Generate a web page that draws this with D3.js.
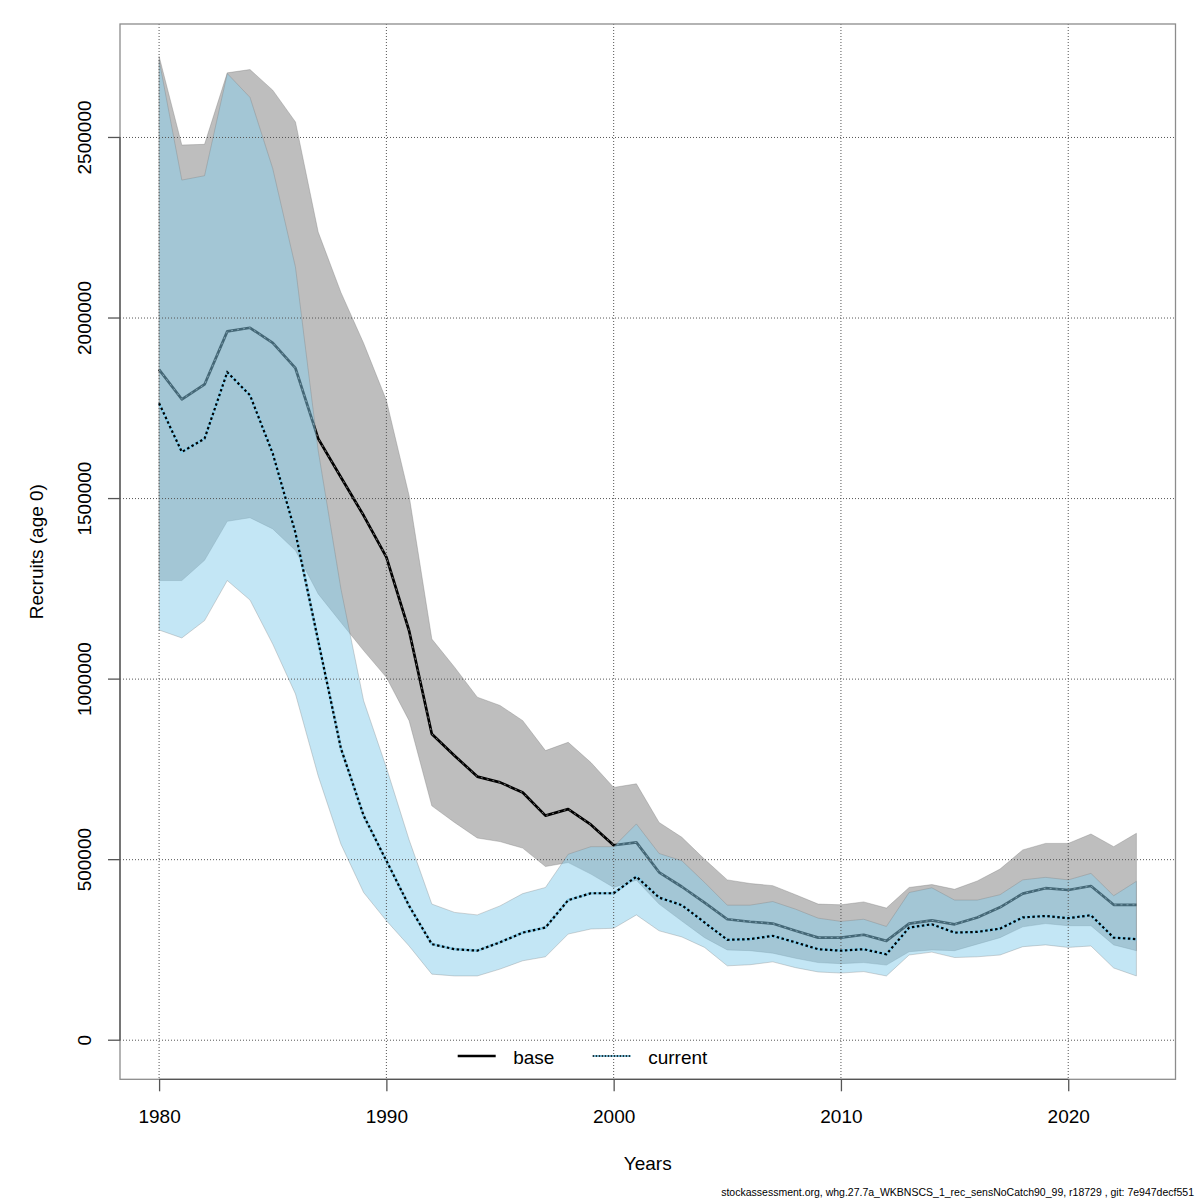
<!DOCTYPE html>
<html>
<head>
<meta charset="utf-8">
<script src="https://cdn.jsdelivr.net/npm/d3@7/dist/d3.min.js"></script>
<style>
  body { margin: 0; background: #fff; }
  svg { display: block; font-family: "Liberation Sans", Arial, Helvetica, sans-serif; }
</style>
</head>
<body>
<div id="chart"></div>
<script>
// Recruitment estimates, base run vs current run (with confidence bands)
const years = [
  1980, 1981, 1982, 1983, 1984, 1985, 1986, 1987, 1988, 1989,
  1990, 1991, 1992, 1993, 1994, 1995, 1996, 1997, 1998, 1999,
  2000, 2001, 2002, 2003, 2004, 2005, 2006, 2007, 2008, 2009,
  2010, 2011, 2012, 2013, 2014, 2015, 2016, 2017, 2018, 2019,
  2020, 2021, 2022, 2023
];

const base = [
  1857000, 1775000, 1816000, 1963000, 1973000, 1931000, 1861000, 1666000, 1559000, 1453000,
  1338000, 1134000, 848000, 788000, 730000, 714000, 686000, 622000, 640000, 597000,
  540000, 548000, 465000, 425000, 381000, 335000, 328000, 323000, 303000, 284000,
  284000, 292000, 275000, 323000, 332000, 321000, 340000, 368000, 406000, 421000,
  416000, 427000, 375000, 375000
];
const baseLow = [
  1273000, 1273000, 1329000, 1437000, 1447000, 1416000, 1356000, 1236000, 1157000, 1079000,
  1005000, 885000, 649000, 603000, 560000, 550000, 532000, 481000, 492000, 460000,
  423000, 443000, 377000, 330000, 284000, 250000, 248000, 241000, 227000, 215000,
  212000, 215000, 208000, 245000, 250000, 248000, 266000, 284000, 314000, 323000,
  317000, 317000, 264000, 248000
];
const baseHigh = [
  2725000, 2479000, 2481000, 2679000, 2688000, 2631000, 2543000, 2238000, 2071000, 1930000,
  1772000, 1508000, 1111000, 1033000, 950000, 927000, 885000, 802000, 825000, 769000,
  700000, 710000, 603000, 562000, 501000, 444000, 434000, 428000, 403000, 377000,
  375000, 383000, 366000, 423000, 431000, 418000, 441000, 474000, 527000, 545000,
  545000, 571000, 536000, 573000
];

const current = [
  1764000, 1629000, 1666000, 1850000, 1786000, 1625000, 1405000, 1106000, 808000, 622000,
  497000, 372000, 266000, 252000, 248000, 271000, 298000, 312000, 388000, 407000,
  407000, 453000, 395000, 374000, 326000, 278000, 280000, 289000, 271000, 252000,
  248000, 252000, 238000, 312000, 321000, 298000, 300000, 309000, 340000, 344000,
  338000, 346000, 284000, 280000
];
const currentLow = [
  1136000, 1114000, 1162000, 1273000, 1219000, 1097000, 959000, 732000, 543000, 409000,
  331000, 261000, 183000, 178000, 178000, 197000, 220000, 231000, 294000, 308000,
  310000, 347000, 303000, 286000, 257000, 206000, 209000, 217000, 201000, 189000,
  186000, 190000, 178000, 236000, 244000, 229000, 231000, 236000, 259000, 264000,
  257000, 261000, 200000, 178000
];
const currentHigh = [
  2715000, 2382000, 2394000, 2677000, 2611000, 2414000, 2141000, 1633000, 1250000, 940000,
  755000, 555000, 377000, 354000, 347000, 372000, 406000, 423000, 515000, 536000,
  536000, 599000, 517000, 497000, 437000, 374000, 374000, 384000, 363000, 338000,
  329000, 335000, 315000, 409000, 422000, 388000, 388000, 403000, 444000, 451000,
  444000, 462000, 400000, 440000
];

const xTicks = [1980, 1990, 2000, 2010, 2020];
const yTicks = [0, 500000, 1000000, 1500000, 2000000, 2500000];
const xLim = [1980, 2023];
const yLim = [0, 2706000];

const legendItems = ['base', 'current'];
const footer = 'stockassessment.org, whg.27.7a_WKBNSCS_1_rec_sensNoCatch90_99, r18729 , git: 7e947decf551';

// Layout
const width = 1200;
const height = 1200;
const plot = { left: 120, right: 1175.5, top: 24, bottom: 1079.3 };
const fontSize = 19;
const pad = 0.04; // R style axis extension

const x = d3.scaleLinear()
  .domain([xLim[0] - pad * (xLim[1] - xLim[0]), xLim[1] + pad * (xLim[1] - xLim[0])])
  .range([plot.left, plot.right]);

const y = d3.scaleLinear()
  .domain([yLim[0] - pad * (yLim[1] - yLim[0]), yLim[1] + pad * (yLim[1] - yLim[0])])
  .range([plot.bottom, plot.top]);

const rows = years.map((yr, i) => ({
  year: yr,
  base: base[i], baseLow: baseLow[i], baseHigh: baseHigh[i],
  current: current[i], currentLow: currentLow[i], currentHigh: currentHigh[i]
}));

const svg = d3.select('#chart')
  .append('svg')
  .attr('width', width)
  .attr('height', height)
  .attr('viewBox', `0 0 ${width} ${height}`);

// Confidence bands
const bandBase = d3.area()
  .x(d => x(d.year))
  .y0(d => y(d.baseLow))
  .y1(d => y(d.baseHigh));

const bandCurrent = d3.area()
  .x(d => x(d.year))
  .y0(d => y(d.currentLow))
  .y1(d => y(d.currentHigh));

svg.append('path')
  .datum(rows)
  .attr('d', bandBase)
  .attr('fill', '#bebebe')
  .attr('stroke', 'rgba(120,120,120,0.35)')
  .attr('stroke-width', 1);

// base line (drawn before the blue band so it shows through it)
const lineBase = d3.line().x(d => x(d.year)).y(d => y(d.base));
svg.append('path')
  .datum(rows)
  .attr('d', lineBase)
  .attr('fill', 'none')
  .attr('stroke', '#000')
  .attr('stroke-width', 2.7)
  .attr('stroke-linejoin', 'round');
svg.append('path')
  .datum(rows)
  .attr('d', lineBase)
  .attr('fill', 'none')
  .attr('stroke', '#777')
  .attr('stroke-width', 1)
  .attr('stroke-dasharray', '2,4');

svg.append('path')
  .datum(rows)
  .attr('d', bandCurrent)
  .attr('fill', 'rgba(135,206,235,0.5)')
  .attr('stroke', 'rgba(120,120,120,0.3)')
  .attr('stroke-width', 1);

// Grid
const grid = svg.append('g')
  .attr('stroke', '#555')
  .attr('stroke-width', 1)
  .attr('stroke-dasharray', '1,2');

grid.selectAll('line.h')
  .data(yTicks)
  .join('line')
  .attr('class', 'h')
  .attr('x1', plot.left)
  .attr('x2', plot.right)
  .attr('y1', d => y(d))
  .attr('y2', d => y(d));

grid.selectAll('line.v')
  .data(xTicks)
  .join('line')
  .attr('class', 'v')
  .attr('x1', d => x(d))
  .attr('x2', d => x(d))
  .attr('y1', plot.top)
  .attr('y2', plot.bottom);

// current line: sky blue underneath, black dashes on top
const lineCurrent = d3.line().x(d => x(d.year)).y(d => y(d.current));
svg.append('path')
  .datum(rows)
  .attr('d', lineCurrent)
  .attr('fill', 'none')
  .attr('stroke', '#87ceeb')
  .attr('stroke-width', 2.7);
svg.append('path')
  .datum(rows)
  .attr('d', lineCurrent)
  .attr('fill', 'none')
  .attr('stroke', '#000')
  .attr('stroke-width', 2.2)
  .attr('stroke-dasharray', '2.5,2.5');

// Plot box
svg.append('rect')
  .attr('x', plot.left)
  .attr('y', plot.top)
  .attr('width', plot.right - plot.left)
  .attr('height', plot.bottom - plot.top)
  .attr('fill', 'none')
  .attr('stroke', '#8c8c8c')
  .attr('stroke-width', 1.3);

// X axis
const xAxis = d3.axisBottom(x)
  .tickValues(xTicks)
  .tickSize(12)
  .tickPadding(18)
  .tickFormat(d3.format('d'));

const gx = svg.append('g')
  .attr('transform', `translate(0,${plot.bottom})`)
  .call(xAxis);
gx.select('.domain').remove();
gx.append('line')
  .attr('x1', x(xTicks[0]))
  .attr('x2', x(xTicks[xTicks.length - 1]))
  .attr('stroke', '#555')
  .attr('stroke-width', 1.3);
gx.selectAll('.tick line').attr('stroke', '#555').attr('stroke-width', 1.3);
gx.selectAll('.tick text')
  .attr('fill', '#000')
  .attr('font-size', fontSize)
  .attr('font-family', '"Liberation Sans", Arial, sans-serif');

// Y axis (labels rotated, R style)
const gy = svg.append('g');
gy.append('line')
  .attr('x1', plot.left)
  .attr('x2', plot.left)
  .attr('y1', y(yTicks[0]))
  .attr('y2', y(yTicks[yTicks.length - 1]))
  .attr('stroke', '#555')
  .attr('stroke-width', 1.3);
gy.selectAll('line.tick')
  .data(yTicks)
  .join('line')
  .attr('class', 'tick')
  .attr('x1', plot.left - 12)
  .attr('x2', plot.left)
  .attr('y1', d => y(d))
  .attr('y2', d => y(d))
  .attr('stroke', '#555')
  .attr('stroke-width', 1.3);
gy.selectAll('text')
  .data(yTicks)
  .join('text')
  .attr('transform', d => `translate(${plot.left - 29.5},${y(d)}) rotate(-90)`)
  .attr('text-anchor', 'middle')
  .attr('font-size', fontSize)
  .text(d => d3.format('d')(d));

// Axis titles
svg.append('text')
  .attr('x', (plot.left + plot.right) / 2)
  .attr('y', 1170)
  .attr('text-anchor', 'middle')
  .attr('font-size', fontSize)
  .text('Years');

svg.append('text')
  .attr('transform', `translate(43,${(plot.top + plot.bottom) / 2}) rotate(-90)`)
  .attr('text-anchor', 'middle')
  .attr('font-size', fontSize)
  .text('Recruits (age 0)');

// Legend (horizontal, no box)
const legend = svg.append('g').attr('transform', 'translate(457.7,1056)');
const lg = legend.selectAll('g')
  .data(legendItems)
  .join('g')
  .attr('transform', (d, i) => `translate(${i * 135},0)`);

lg.filter(d => d === 'base').append('line')
  .attr('x1', 0).attr('x2', 38)
  .attr('stroke', '#000')
  .attr('stroke-width', 2.5);

lg.filter(d => d === 'current').append('line')
  .attr('x1', 0).attr('x2', 38)
  .attr('stroke', '#87ceeb')
  .attr('stroke-width', 2);
lg.filter(d => d === 'current').append('line')
  .attr('x1', 0).attr('x2', 38)
  .attr('stroke', '#000')
  .attr('stroke-width', 1.4)
  .attr('stroke-dasharray', '1.5,1.5');

lg.append('text')
  .attr('x', 55.5)
  .attr('y', 7.5)
  .attr('font-size', fontSize)
  .text(d => d);

// Footer
svg.append('text')
  .attr('x', 1194)
  .attr('y', 1196)
  .attr('text-anchor', 'end')
  .attr('font-size', 10.5)
  .text(footer);
</script>
</body>
</html>
